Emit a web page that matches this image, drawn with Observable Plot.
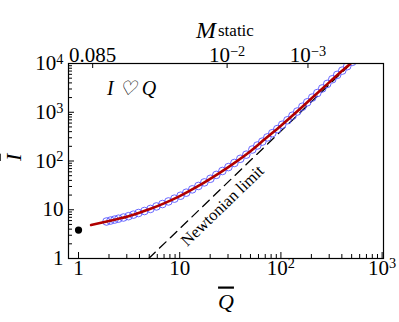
<!DOCTYPE html>
<html>
<head>
<meta charset="utf-8">
<script src="https://cdn.jsdelivr.net/npm/d3@7"></script>
<script src="https://cdn.jsdelivr.net/npm/@observablehq/plot@0.6"></script>
<style>
  html, body { margin: 0; padding: 0; background: white; }
  svg text { font-family: "Liberation Serif", serif; }
</style>
</head>
<body>
<div id="chart"></div>
<script>
// ---- data ----
const curveQ = [1.33, 2, 3, 3.8, 5, 7, 10, 15, 20, 30, 50, 70, 100, 150, 200, 300, 400, 500, 540];
const curveI = [4.85, 5.9, 7.2, 8.4, 10.2, 13.5, 19, 30, 43, 74, 158, 285, 530, 1110, 1920, 4100, 7000, 10500, 12200];

const circleQ = [1.89,2.07,2.27,2.48,2.78,3.12,3.49,3.91,4.48,5.14,5.89,6.75,7.73,8.87,10.2,11.6,13.3,15.3,17.5,20.1,23.0,26.4,30.3,34.7,39.7,45.5,52.2,58.5,65.5,73.4,82.2,92.1,103,116,130,145,163,182,204,229,256,287,322,360,404,452,507];
const circleI = [5.74,6.0,6.28,6.56,6.93,7.38,7.94,8.57,9.42,10.4,11.7,13.1,14.8,16.9,19.4,22.4,26.2,30.8,36.4,43.2,51.9,62.4,75.0,91.2,111,135,172,208,250,305,372,452,555,685,850,1035,1300,1600,2000,2480,3080,3820,4750,5850,7150,8800,10800];

const dotQ = [1];
const dotI = [3.83];

const newtonQ = [4.94, 494];
const newtonI = [1, 10000];

const xTicks = [1, 10, 100, 1000];
const xTickLabels = ["1", "10", "10^2", "10^3"];
const yTicks = [1, 10, 100, 1000, 10000];
const yTickLabels = ["1", "10", "10^2", "10^3", "10^4"];
const topTickQ = [1.38, 29.4, 185];
const topTickLabels = ["0.085", "10^\u22122", "10^\u22123"];

const annotText = ["I \u2661 Q"];
const annotQ = [3.34];
const annotI = [3054];
const newtonLabel = ["Newtonian limit"];
const newtonLabelQ = [26.4];
const newtonLabelI = [12.1];

// ---- build ----
const W = 399, H = 322;
const mL = 68, mR = 16, mT = 63, mB = 64;
const frameW = W - mL - mR, frameH = H - mT - mB;

const minor = (decades) => decades.flatMap(d => [2,3,4,5,6,7,8,9].map(k => k * d));
const xMinor = minor([1, 10, 100]);
const yMinor = minor([1, 10, 100, 1000]);

const curve = curveQ.map((q, i) => ({Q: q, I: curveI[i]}));
const circles = circleQ.map((q, i) => ({Q: q, I: circleI[i]}));
const dots = dotQ.map((q, i) => ({Q: q, I: dotI[i]}));
const newton = newtonQ.map((q, i) => ({Q: q, I: newtonI[i]}));

const plot = Plot.plot({
  width: W, height: H,
  marginLeft: mL, marginRight: mR, marginTop: mT, marginBottom: mB,
  style: {fontFamily: "Liberation Serif", fontSize: "21px", background: "white", color: "black", overflow: "visible"},
  x: {type: "log", domain: [0.796, 1032], axis: null},
  y: {type: "log", domain: [1, 10000], axis: null},
  marks: [
    // Newtonian limit
    Plot.line(newton, {x: "Q", y: "I", stroke: "black", strokeWidth: 1.3, strokeDasharray: "9,6", clip: true}),
    Plot.text(newtonLabel, {x: () => newtonLabelQ[0], y: () => newtonLabelI[0], text: d => d, rotate: -44, fontSize: 16.5}),
    // circles
    Plot.dot(circles, {x: "Q", y: "I", r: 3.8, stroke: "#5656ff", strokeWidth: 0.9, fill: "none", clip: true}),
    // red curve
    Plot.line(curve, {x: "Q", y: "I", stroke: "#b00000", strokeWidth: 2.6, curve: "monotone-x", clip: true}),
    // black dot
    Plot.dot(dots, {x: "Q", y: "I", r: 3.6, fill: "black"}),
    // annotation
    Plot.text(annotText, {x: () => annotQ[0], y: () => annotI[0], text: d => d, fontStyle: "italic", fontSize: 20}),
    // frame
    Plot.frame({stroke: "black", strokeWidth: 1.2}),
    // ticks (inward)
    Plot.ruleX(xTicks, {x: d => d, insetTop: frameH - 6, stroke: "black"}),
    Plot.ruleX(xMinor, {x: d => d, insetTop: frameH - 4, stroke: "black"}),
    Plot.ruleY(yTicks, {y: d => d, insetRight: frameW - 6, stroke: "black"}),
    Plot.ruleY(yMinor, {y: d => d, insetRight: frameW - 4, stroke: "black"}),
    Plot.ruleX(topTickQ, {x: d => d, insetBottom: frameH - 5, stroke: "black"}),
    // tick labels
    Plot.text(xTicks, {x: d => d, text: (d, i) => xTickLabels[i], frameAnchor: "bottom", dy: 16, fontSize: 21}),
    Plot.text(yTicks, {y: d => d, text: (d, i) => yTickLabels[i], frameAnchor: "left", textAnchor: "end", dx: -5, fontSize: 21}),
    Plot.text(topTickQ, {x: d => d, text: (d, i) => topTickLabels[i], frameAnchor: "top", dy: -16, fontSize: 21}),
    // axis titles
    Plot.text(["Q"], {frameAnchor: "bottom", text: d => d, dy: 50, fontStyle: "italic", fontSize: 22}),
    Plot.text(["I"], {frameAnchor: "left", text: d => d, dx: -55, rotate: -90, fontStyle: "italic", fontSize: 22}),
    Plot.text(["M"], {frameAnchor: "top", text: d => d, dx: -20, dy: -43, fontStyle: "italic", fontSize: 24}),
    Plot.text(["static"], {frameAnchor: "top", text: d => d, dx: -8, dy: -40, textAnchor: "start", fontSize: 17})
  ]
});

document.getElementById("chart").appendChild(plot);

// fonts, superscripts ("a^b" -> a with raised b), overlines
d3.select(plot).selectAll("text").each(function() {
  const el = d3.select(this);
  el.style("font-family", "'Liberation Serif', serif");
  const t = this.textContent;
  const m = t.match(/^(.*)\^(.+)$/);
  if (m) {
    el.text(null);
    el.append("tspan").text(m[1]);
    el.append("tspan").attr("dy", "-0.45em").attr("font-size", "0.68em").text(m[2]);
  }
  if (t === "Q" || t === "I") {
    el.style("text-decoration", "overline");
  }
});
</script>
</body>
</html>
